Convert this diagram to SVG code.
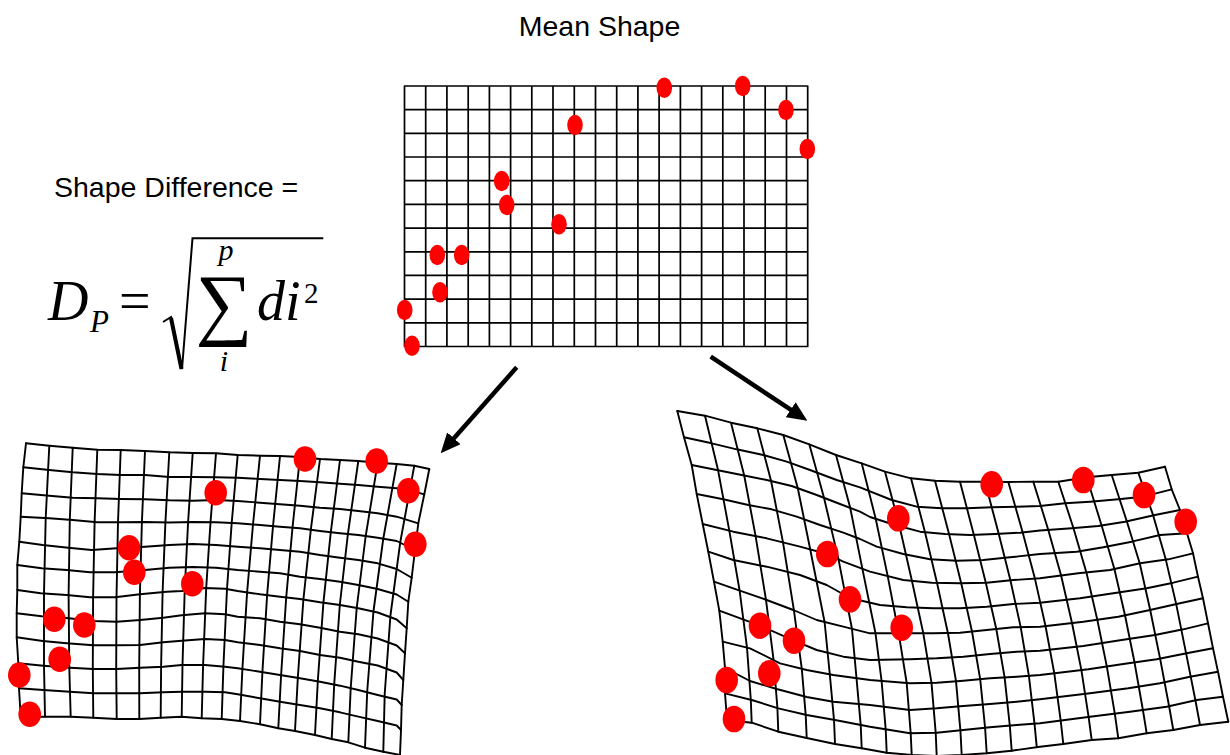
<svg xmlns="http://www.w3.org/2000/svg" width="1230" height="755" viewBox="0 0 1230 755">
<defs>
<style>
.grid{fill:none;stroke:#000;stroke-width:1.7;stroke-linejoin:round;stroke-linecap:round}
.wgrid{fill:none;stroke:#000;stroke-width:1.9;stroke-linejoin:round;stroke-linecap:round}
.lm{fill:#ff0000}
.label{font-family:"Liberation Sans",Arial,sans-serif;font-size:28.5px;fill:#000}
.math{font-family:"Liberation Serif","Times New Roman",serif;fill:#000}
.it{font-style:italic}
.arrow{stroke:#000;stroke-width:4.5;fill:none}
</style>
<marker id="head" viewBox="0 0 20 18" refX="10" refY="9" markerWidth="20" markerHeight="18" markerUnits="userSpaceOnUse" orient="auto">
<path d="M0,0 L20,9 L0,18 z" fill="#000"/>
</marker>
</defs>
<rect width="1230" height="755" fill="#fff"/>

<g id="mean-shape">
<text class="label" x="599.5" y="36" text-anchor="middle">Mean Shape</text>
<path class="grid" d="M404.5,86V346.5M425.7,86V346.5M446.9,86V346.5M468.2,86V346.5M489.4,86V346.5M510.6,86V346.5M531.8,86V346.5M553,86V346.5M574.3,86V346.5M595.5,86V346.5M616.7,86V346.5M637.9,86V346.5M659.1,86V346.5M680.4,86V346.5M701.6,86V346.5M722.8,86V346.5M744,86V346.5M765.2,86V346.5M786.5,86V346.5M807.7,86V346.5M404.5,86H807.7M404.5,109.7H807.7M404.5,133.4H807.7M404.5,157H807.7M404.5,180.7H807.7M404.5,204.4H807.7M404.5,228.1H807.7M404.5,251.8H807.7M404.5,275.4H807.7M404.5,299.1H807.7M404.5,322.8H807.7M404.5,346.5H807.7"/>
<g class="lm">
<ellipse cx="664.3" cy="87.7" rx="7.8" ry="10.2"/>
<ellipse cx="742.7" cy="86" rx="7.8" ry="10.2"/>
<ellipse cx="786" cy="110" rx="7.8" ry="10.2"/>
<ellipse cx="807.3" cy="149" rx="7.8" ry="10.2"/>
<ellipse cx="575" cy="125" rx="7.8" ry="10.2"/>
<ellipse cx="501.7" cy="181" rx="7.8" ry="10.2"/>
<ellipse cx="506.7" cy="205" rx="7.8" ry="10.2"/>
<ellipse cx="559" cy="224.3" rx="7.8" ry="10.2"/>
<ellipse cx="437.3" cy="255" rx="7.8" ry="10.2"/>
<ellipse cx="461.7" cy="255" rx="7.8" ry="10.2"/>
<ellipse cx="440" cy="292.3" rx="7.8" ry="10.2"/>
<ellipse cx="404.7" cy="310" rx="7.8" ry="10.2"/>
<ellipse cx="412" cy="345.7" rx="7.8" ry="10.2"/>
</g>
</g>

<g id="formula">
<text class="label" x="54" y="197">Shape Difference =</text>
<text class="math it" x="48" y="320" font-size="56">D</text>
<text class="math it" x="90" y="332" font-size="31">P</text>
<text class="math" x="119" y="320" font-size="56">=</text>
<path d="M163,322 L171,317 L182,369 L192.5,238.3 L323.3,238.3" fill="none" stroke="#000" stroke-width="2" stroke-linejoin="miter"/>
<path d="M171,318 L181.5,369" stroke="#000" stroke-width="4"/>
<text class="math" x="224" y="330" font-size="80" text-anchor="middle">∑</text>
<text class="math it" x="226" y="260" font-size="30" text-anchor="middle">p</text>
<text class="math it" x="224" y="371" font-size="30" text-anchor="middle">i</text>
<text class="math it" x="257" y="320" font-size="56">di</text>
<text class="math" x="304" y="303" font-size="29">2</text>
</g>

<g id="connectors">
<line class="arrow" x1="516.7" y1="367.3" x2="447.3" y2="445.8" marker-end="url(#head)"/>
<line class="arrow" x1="710.7" y1="356.7" x2="799" y2="415.2" marker-end="url(#head)"/>
</g>

<g id="shape-left">
<g class="wgrid">
<polyline points="26,443.3 49.3,445.7 72.7,447.7 97.3,449.7 120.7,450 145,451 169.3,452.3 192.7,453 216,453.3 237.7,455 260,455.7 280,456 300,457 320,459 340,460 358.3,461 377.7,462.7 396.7,464 414.3,465.7 429.3,469"/>
<polyline points="23.3,467.3 49.3,470 72.7,472.3 97.3,474 120.7,475 145,475 169.3,477 192.7,477 216,477.3 237.7,477.7 260,479 280,480 300,481 320,482.3 340,483.7 358.3,485 377.7,486.7 396.7,488.3 410,490.5 424.3,494.3"/>
<polyline points="21.7,493.3 49.3,495.7 72.7,497.7 97.3,498.3 120.7,499 145,499.3 169.3,500.3 192.7,500.7 216,500 237.7,501 260,502.7 280,504.3 300,505.7 320,507.7 340,509 358.3,511 377.7,513.3 396.7,516.7 418.3,523.3"/>
<polyline points="20.7,516.7 49.3,518.3 72.7,520 97.3,522.3 120.7,522.3 145,522 169,522.5 193,522 216,522.3 237.7,523.3 260,525 280,526.7 300,528.3 320,531 340,533.3 358.3,535 377.7,537.7 396.7,541 415,550"/>
<polyline points="19.3,541.7 42.7,545 68.3,547.7 91.7,550 116.7,548.3 145,546.7 169.3,545 192.7,544 216,545 237.7,546.7 260,548.3 280,550 300,551.7 320,555 340,557.7 358.3,560 377.7,563.3 396.7,569 411.7,577.7"/>
<polyline points="17.3,565 41.7,568.3 66.7,570 90,572.3 115,572.3 145,570 169.3,567.7 192.7,567 216,567.7 237.7,570 260,571.7 280,573.3 300,576.7 320,579 340,581.7 358.3,585 377.7,589 396.7,594.5 408.3,601.7"/>
<polyline points="17.3,590 40.7,593.3 66.7,595 90,597.3 115,597.3 140,594.3 166.7,591.7 181.7,591 205,588 225,588.7 237.7,591 260,594.3 280,596.7 300,599 320,602.3 340,605 358.3,608.3 377.7,612.5 396.7,619.5 406.7,628.3"/>
<polyline points="16.7,613.3 41.7,616.3 66.7,618 93.3,621 116.7,621.7 140,620 163.3,617.7 181.7,615.3 205,613.3 225,614.3 237.7,616.7 260,618.3 280,621.7 300,624.3 320,627.7 340,631.7 358.3,634.3 377.7,638.5 396.7,645.5 405,653.3"/>
<polyline points="16.7,637.3 42.7,641 66.7,643.3 93.3,645.3 116.7,645.3 140,645 163.3,642.3 181.7,640.7 205,639 225,640 237.7,642.3 260,645 280,648.3 300,651 320,655 340,657.7 358.3,661.7 377.7,665.5 396.7,672.5 403.3,680"/>
<polyline points="18.3,663.3 43.3,665.7 70,667.7 93.3,669 116.7,669 140,667.7 163.3,666.7 181.7,665 205,665 225,666.7 237.7,668.3 260,671.7 280,675 300,678.3 320,681.7 340,685.7 358.3,690 377.7,695 396.7,699.5 401.7,705"/>
<polyline points="19,688.3 43.3,690 70,691.7 93.3,693.3 116.7,693.3 140,693.3 163.3,692.3 181.7,691.7 205,691.7 225,692.3 237.7,694.3 260,698.3 280,701.7 300,705 320,708.3 340,712.3 358.3,716.7 377.7,721 396.7,725.5 401,730"/>
<polyline points="20.7,717 45,716.7 70.7,716.7 93.3,717.7 116.7,719 139.3,719 160.7,717.7 181.7,716.7 201.7,718.3 221.7,719 240,721 260,724.3 278.3,728.3 295,731 315,735 331.7,739 348.3,742.3 365,747.7 383.3,751.7 400,755"/>
<polyline points="26,443.3 23.3,467.3 21.7,493.3 20.7,516.7 19.3,541.7 17.3,565 17.3,590 16.7,613.3 16.7,637.3 18.3,663.3 19,688.3 20.7,717"/>
<polyline points="49.3,445.7 45.7,518 44,593.3 44,665.8 45,716.7"/>
<polyline points="72.7,447.7 69.8,519.8 68.6,595.2 69.3,667.7 70.7,716.7"/>
<polyline points="97.3,449.7 94.6,522.3 93.1,597.3 92.8,669 93.3,717.7"/>
<polyline points="120.7,450 118,522.3 116.5,597.1 116.2,669 116.7,719"/>
<polyline points="145,451 141.9,522 139.9,594.3 139.2,667.8 139.3,719"/>
<polyline points="169.3,452.3 165.4,522.4 162.6,592 161.1,666.8 160.7,717.7"/>
<polyline points="192.7,453 188.1,522 184.7,590.5 182.5,665 181.7,716.7"/>
<polyline points="216,453.3 210.5,522.3 206.2,588 203.1,665 201.7,718.3"/>
<polyline points="237.7,455 231.7,523 227,589 223.4,666.8 221.7,719"/>
<polyline points="260,455.7 253,524.5 247.1,592.3 242.4,668.9 240,721"/>
<polyline points="280,456 273,526.1 267.1,595.2 262.4,672.1 260,724.3"/>
<polyline points="300,457 292.5,527.7 286.2,597.5 281.1,675.2 278.3,728.3"/>
<polyline points="320,459 310.8,529.8 303.4,599.5 297.8,678 295,731"/>
<polyline points="340,460 330.8,532.2 323.4,602.8 317.8,681.3 315,735"/>
<polyline points="358.3,461 347.9,534 339.8,605 334.2,684.5 331.7,739"/>
<polyline points="377.7,462.7 365.7,536 356.7,608 350.7,688.2 348.3,742.3"/>
<polyline points="396.7,464 383.3,538.5 373.5,611 367.2,691.5 365,747.7"/>
<polyline points="414.3,465.7 400.3,542 390.5,615 384.7,694 383.3,751.7"/>
<polyline points="429.3,469 424.3,494.3 418.3,523.3 415,550 411.7,577.7 408.3,601.7 406.7,628.3 405,653.3 403.3,680 401.7,705 401,730 400,755"/>
</g>
<g class="lm">
<ellipse cx="305" cy="459" rx="11.3" ry="12.8"/>
<ellipse cx="376.7" cy="461" rx="11.3" ry="12.8"/>
<ellipse cx="408.3" cy="490.7" rx="11.3" ry="12.8"/>
<ellipse cx="415.3" cy="544.3" rx="11.3" ry="12.8"/>
<ellipse cx="215.7" cy="492.7" rx="11.3" ry="12.8"/>
<ellipse cx="129" cy="547.7" rx="11.3" ry="12.8"/>
<ellipse cx="134.3" cy="572.3" rx="11.3" ry="12.8"/>
<ellipse cx="192.3" cy="583.7" rx="11.3" ry="12.8"/>
<ellipse cx="54.3" cy="619.3" rx="11.3" ry="12.8"/>
<ellipse cx="84.3" cy="625" rx="11.3" ry="12.8"/>
<ellipse cx="59.7" cy="659.3" rx="11.3" ry="12.8"/>
<ellipse cx="19.3" cy="675" rx="11.3" ry="12.8"/>
<ellipse cx="29.7" cy="714.3" rx="11.3" ry="12.8"/>
</g>
</g>

<g id="shape-right">
<g class="wgrid">
<polyline points="677.3,411 705,415.7 731,422.7 757.3,428.3 783.3,435 809.3,444.3 836,455 861.7,463.3 885,471.7 911,478.3 935,480.7 960,481.7 985,481.7 1008.3,482 1033.3,481.7 1058.3,481.7 1086.7,477.3 1111.7,475 1138.3,472.7 1165,466.7"/>
<polyline points="684,437.3 711.7,443.3 736.7,449.3 763.3,455 786.7,461.7 810,470 836.7,480 860,487.3 891.7,500 916.7,506.7 941.7,508.3 966.7,508.3 991.7,507.3 1016.7,506.7 1040,506 1065,503.3 1090,501.7 1118.3,499.3 1143.3,496.7 1171.7,489.3"/>
<polyline points="691.7,465 716.7,470 741.7,475 766.7,480 791.7,486 816.7,495 840,504 860,511.7 870,517 895,525 920,531.7 945,534 970,535 995,534 1020,532.7 1040,530.5 1071.7,528.3 1098.3,526 1125,521.7 1155,515 1180,510"/>
<polyline points="696.7,494 723.3,499.3 748.3,505 771.7,509.3 796.7,516.7 820,525 843.3,532.7 860,539 876.7,546.7 903.3,554 930,559.3 956.7,560.7 983.3,560 1010,557.3 1040,554 1076.7,551.7 1103.3,547.3 1131.7,541.7 1160,535 1187,533.3"/>
<polyline points="702.7,524 733.3,531.7 766.7,538.3 800,546.7 827,554 843.3,561.7 870,571.7 903.3,580 931.7,582.7 960,583.3 986.7,582.7 1013.3,580 1040,578.3 1078.3,573.3 1110,570 1140,563.3 1168.3,559.3 1193,553.3"/>
<polyline points="708.3,551.7 733.3,560 766.7,566.7 800,575 826.7,585 850,598 880,605 906.7,607.3 933.3,608.3 960,608.3 986.7,606.7 1013.3,604 1040,602.7 1080,598.3 1113.3,593.3 1146.7,588.3 1173.3,582.7 1198,576.7"/>
<polyline points="714,581.7 733.3,588.3 766.7,600 793.3,610 816.7,620 843.3,626.7 870,633.3 908.3,633.3 933.3,633.3 960,632.7 986.7,630 1013.3,627.3 1040,626.7 1083.3,621.7 1118.3,616.7 1150,610 1180,603.3 1203,598.3"/>
<polyline points="719.3,610.7 760,625.7 794,640.7 816.7,650 843.3,656.7 870,660 910,659.3 936.7,658.3 963.3,656.7 990,654 1016.7,651.7 1040,650.7 1083.3,646 1121.7,640 1155,635 1183.3,629.3 1208,623.3"/>
<polyline points="722.7,641.7 750,648.3 780,663.3 806.7,670 833.3,675 870,680 910,683.3 936.7,682.7 963.3,680.7 990,678.3 1016.7,676.7 1040,675 1088.3,669.3 1123.3,664 1156.7,659.3 1186.7,653.3 1213,648.3"/>
<polyline points="725,668 750,681 776.7,689 806.7,697 833.3,701.7 870,705 910,710 936.7,708.3 963.3,706 990,704 1016.7,701.7 1040,699.3 1090,693.3 1128.3,688.3 1160,683.3 1190,676.7 1218,671.7"/>
<polyline points="725,693.3 751.7,700 778.3,708.3 806.7,715 835,720 870,726.7 910,733.3 936.7,732.7 963.3,730 990,727.3 1016.7,725 1040,723.3 1090,716.7 1130,711.7 1166.7,706.7 1196.7,700 1223,696.7"/>
<polyline points="727,720 751.7,722.7 778.3,731.7 806.7,738 835,744 861.7,748.3 886.7,752.7 911.7,755 936.7,756 961.7,755 986.7,753.3 1011.7,750.7 1040,746.7 1063.3,744 1091.7,740 1118.3,738.3 1146.7,733.3 1173.3,730 1200,725 1228.3,721.7"/>
<polyline points="677.3,411 684,437.3 691.7,465 696.7,494 702.7,524 708.3,551.7 714,581.7 719.3,610.7 722.7,641.7 725,668 725,693.3 727,720"/>
<polyline points="705,415.7 718.1,470.3 729.3,530.7 739.6,590.5 747,647.6 750.8,699.8 751.7,722.7"/>
<polyline points="731,422.7 744.2,475.5 755.6,536.1 766,599.8 773.6,660.1 777.4,708 778.3,731.7"/>
<polyline points="757.3,428.3 771.1,481 783,542.4 793.9,610.2 801.8,668.8 805.7,714.8 806.7,738"/>
<polyline points="783.3,435 797.8,488.2 810.2,549.2 824.6,622 829.8,674.3 834,719.8 835,744"/>
<polyline points="809.3,444.3 824,497.8 838.5,559.4 852,629 856.5,678.2 860.7,724.9 861.7,748.3"/>
<polyline points="836,455 850.2,507.8 862.4,568.9 875.5,633.3 881.6,681 885.7,729.3 886.7,752.7"/>
<polyline points="861.7,463.3 875.7,518.8 887.7,576.1 898.7,633.3 906.7,683 910.7,733.3 911.7,755"/>
<polyline points="885,471.7 899.5,526.2 911.9,580.8 923.3,633.3 931.5,682.8 935.7,732.7 936.7,756"/>
<polyline points="911,478.3 925,532.2 937,582.8 947.9,633 956,681.2 960.4,730.3 961.7,755"/>
<polyline points="935,480.7 949.1,534.2 961.2,583.3 972,631.5 980.2,679.2 985.1,727.8 986.7,753.3"/>
<polyline points="960,481.7 973.9,535 985.8,582.7 996.3,629 1004.6,677.4 1009.8,725.6 1011.7,750.7"/>
<polyline points="985,481.7 998.7,533.8 1010.4,580.3 1020.7,627.1 1028.9,675.8 1034.5,723.7 1036.7,746.7"/>
<polyline points="1008.3,482 1022.7,532.4 1034.9,578.6 1045.5,626 1054.3,673.3 1060.7,720.6 1063.3,744"/>
<polyline points="1033.3,481.7 1048.3,530 1061.1,575.5 1072,623 1081.4,670.1 1088.6,716.9 1091.7,740"/>
<polyline points="1058.3,481.7 1073.5,528.2 1086.4,572.4 1097.3,619.7 1106.9,666.9 1114.8,713.6 1118.3,738.3"/>
<polyline points="1086.7,477.3 1101.6,525.5 1114.4,569 1125,615.3 1134.5,662.3 1142.9,710 1146.7,733.3"/>
<polyline points="1111.7,475 1126.8,521.3 1139.7,563.3 1150.2,610 1160.1,658.6 1169.1,706.2 1173.3,730"/>
<polyline points="1138.3,472.7 1153.2,515.4 1165.8,559.6 1176.2,604.1 1186.1,653.4 1195.4,700.3 1200,725"/>
<polyline points="1165,466.7 1171.7,489.3 1180,510 1187,533.3 1193,553.3 1198,576.7 1203,598.3 1208,623.3 1213,648.3 1218,671.7 1223,696.7 1228.3,721.7"/>
</g>
<g class="lm">
<ellipse cx="991.7" cy="484.3" rx="11.3" ry="13.3"/>
<ellipse cx="1083.3" cy="480" rx="11.3" ry="13.3"/>
<ellipse cx="1144" cy="495" rx="11.3" ry="13.3"/>
<ellipse cx="1185.7" cy="521.7" rx="11.3" ry="13.3"/>
<ellipse cx="898.3" cy="518.3" rx="11.3" ry="13.3"/>
<ellipse cx="827.3" cy="554" rx="11.3" ry="13.3"/>
<ellipse cx="850" cy="599.3" rx="11.3" ry="13.3"/>
<ellipse cx="901.7" cy="627.7" rx="11.3" ry="13.3"/>
<ellipse cx="760" cy="625.7" rx="11.3" ry="13.3"/>
<ellipse cx="794" cy="640.7" rx="11.3" ry="13.3"/>
<ellipse cx="769.3" cy="673.3" rx="11.3" ry="13.3"/>
<ellipse cx="726.7" cy="680" rx="11.3" ry="13.3"/>
<ellipse cx="734" cy="719" rx="11.3" ry="13.3"/>
</g>
</g>
</svg>
